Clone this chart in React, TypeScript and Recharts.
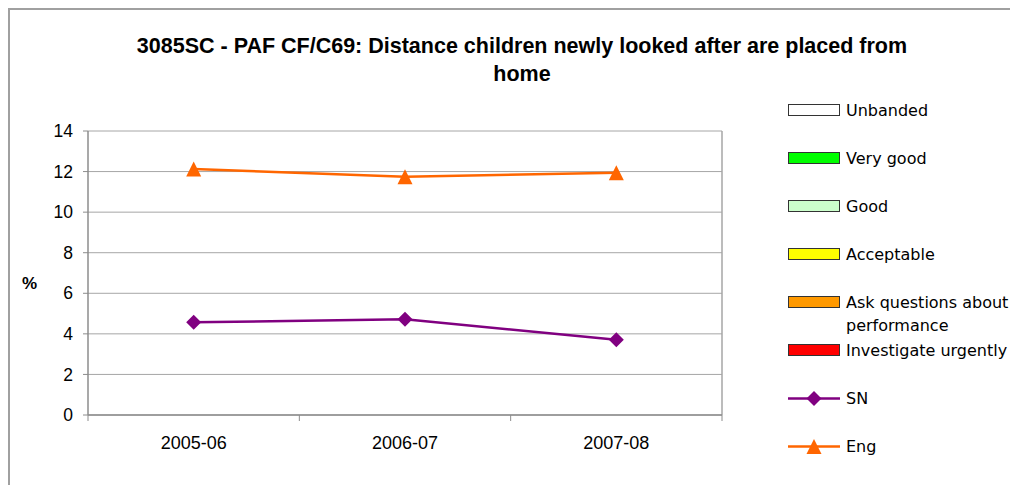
import { CartesianGrid, Legend, Line, LineChart, ReferenceLine, XAxis, YAxis } from 'recharts'

const categories = ['2005-06', '2006-07', '2007-08']
const snValues = [4.57, 4.72, 3.71]
const engValues = [12.13, 11.75, 11.94]
const yTicks = [0, 2, 4, 6, 8, 10, 12, 14]
// category centres plus the boundaries between them (where tick marks go)
const xTicks = [-0.5, 0, 0.5, 1, 1.5, 2, 2.5]

const bands = [
    { name: 'Unbanded', color: '#ffffff' },
    { name: 'Very good', color: '#00ff00' },
    { name: 'Good', color: '#ccffcc' },
    { name: 'Acceptable', color: '#ffff00' },
    { name: 'Ask questions about performance', color: '#ff9900' },
    { name: 'Investigate urgently', color: '#ff0000' },
]

const SN_COLOR = '#800080'
const ENG_COLOR = '#ff6600'
const GRID = '#a6a6a6'
const AXIS = '#8c8c8c'

const data = categories.map((c, i) => ({
    idx: i,
    category: c,
    SN: snValues[i],
    Eng: engValues[i],
}))

function Diamond({ cx, cy, fill }: { cx: number; cy: number; fill: string }) {
    const r = 7.5
    return (
        <polygon
            points={`${cx},${cy - r} ${cx + r},${cy} ${cx},${cy + r} ${cx - r},${cy}`}
            fill={fill}
        />
    )
}

function Triangle({ cx, cy, fill }: { cx: number; cy: number; fill: string }) {
    const h = 7.5
    return (
        <polygon
            points={`${cx},${cy - h} ${cx + h},${cy + h} ${cx - h},${cy + h}`}
            fill={fill}
        />
    )
}

function XTick(props: any) {
    const { x, y, payload } = props
    const v = payload.value
    if (Number.isInteger(v)) {
        return (
            <text
                x={x}
                y={y + 34}
                textAnchor='middle'
                fontFamily='Liberation Sans, Arial, sans-serif'
                fontSize={18}
                fill='#000'
            >
                {categories[v]}
            </text>
        )
    }
    return <line x1={x} x2={x} y1={y} y2={y + 6} stroke={AXIS} strokeWidth={1} />
}

function ChartLegend() {
    const rowStyle = {
        height: 48,
        display: 'flex',
        alignItems: 'flex-start',
    } as const
    const textStyle = {
        width: 172,
        marginLeft: 6,
        fontFamily: 'DejaVu Sans, sans-serif',
        fontSize: 16,
        lineHeight: '23px',
        color: '#000',
    } as const
    return (
        <div>
            {bands.map((b) => (
                <div key={b.name} style={rowStyle}>
                    <div
                        style={{
                            width: 50,
                            height: 10,
                            marginTop: 5.5,
                            background: b.color,
                            border: '1px solid #333',
                        }}
                    />
                    <div style={textStyle}>{b.name}</div>
                </div>
            ))}
            {[
                { name: 'SN', color: SN_COLOR, shape: 'diamond' },
                { name: 'Eng', color: ENG_COLOR, shape: 'triangle' },
            ].map((s) => (
                <div key={s.name} style={rowStyle}>
                    <svg width={52} height={23} style={{ display: 'block' }}>
                        <line x1={0} x2={52} y1={11.5} y2={11.5} stroke={s.color} strokeWidth={2.5} />
                        {s.shape === 'diamond' ? (
                            <Diamond cx={26} cy={11.5} fill={s.color} />
                        ) : (
                            <Triangle cx={26} cy={11.5} fill={s.color} />
                        )}
                    </svg>
                    <div style={textStyle}>{s.name}</div>
                </div>
            ))}
        </div>
    )
}

export default function App() {
    return (
        <div
            style={{
                position: 'relative',
                width: 1018,
                height: 485,
                margin: '-8px 0 0 -8px',
                overflow: 'hidden',
                background: '#fff',
            }}
        >
            <div
                style={{
                    position: 'absolute',
                    left: 8,
                    top: 8,
                    width: 1100,
                    height: 600,
                    borderLeft: '2px solid #a0a0a0',
                    borderTop: '2px solid #a0a0a0',
                }}
            />
            <div
                style={{
                    position: 'absolute',
                    left: 0,
                    width: 1044,
                    top: 32,
                    textAlign: 'center',
                    fontFamily: 'Liberation Sans, Arial, sans-serif',
                    fontWeight: 'bold',
                    fontSize: 21.5,
                    lineHeight: '28px',
                    color: '#000',
                }}
            >
                3085SC - PAF CF/C69: Distance children newly looked after are placed from
                <br />
                home
            </div>
            <div style={{ position: 'absolute', left: 0, top: 0 }}>
                <LineChart
                    width={1018}
                    height={485}
                    data={data}
                    margin={{ top: 131, right: 296, bottom: 30, left: 28 }}
                >
                    <CartesianGrid vertical={false} stroke={GRID} strokeWidth={1} />
                    <XAxis
                        dataKey='idx'
                        type='number'
                        domain={[-0.5, 2.5]}
                        ticks={xTicks}
                        interval={0}
                        tick={<XTick />}
                        tickLine={false}
                        tickSize={0}
                        tickMargin={0}
                        height={40}
                        axisLine={{ stroke: AXIS, strokeWidth: 1.5 }}
                    />
                    <YAxis
                        domain={[0, 14]}
                        ticks={yTicks}
                        interval={0}
                        width={60}
                        tickSize={5}
                        tickMargin={10}
                        tickLine={{ stroke: AXIS }}
                        axisLine={{ stroke: AXIS, strokeWidth: 1.5 }}
                        tick={{
                            fill: '#000',
                            fontSize: 17.5,
                            fontFamily: 'Liberation Sans, Arial, sans-serif',
                        }}
                        label={{
                            value: '%',
                            position: 'insideLeft',
                            offset: -6,
                            dy: 10,
                            fill: '#000',
                            fontSize: 17,
                            fontWeight: 'bold',
                            fontFamily: 'Liberation Sans, Arial, sans-serif',
                        }}
                    />
                    <ReferenceLine x={2.5} stroke={GRID} strokeWidth={1.5} />
                    <Line
                        dataKey='SN'
                        stroke={SN_COLOR}
                        strokeWidth={2.5}
                        isAnimationActive={false}
                        dot={(p: any) => (
                            <Diamond key={`sn-${p.index}`} cx={p.cx} cy={p.cy} fill={SN_COLOR} />
                        )}
                    />
                    <Line
                        dataKey='Eng'
                        stroke={ENG_COLOR}
                        strokeWidth={2.5}
                        isAnimationActive={false}
                        dot={(p: any) => (
                            <Triangle key={`eng-${p.index}`} cx={p.cx} cy={p.cy} fill={ENG_COLOR} />
                        )}
                    />
                    <Legend
                        layout='horizontal'
                        verticalAlign='middle'
                        content={<ChartLegend />}
                        wrapperStyle={{ left: 788, top: 98.5, width: 230, height: 'auto' }}
                    />
                </LineChart>
            </div>
        </div>
    )
}
